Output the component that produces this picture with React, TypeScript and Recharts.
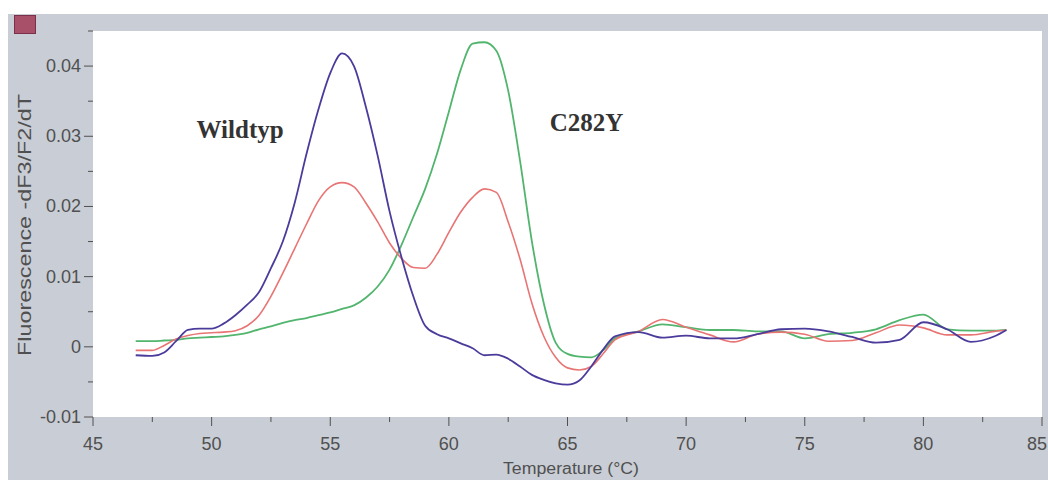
import React from "react";
import {
  LineChart,
  Line,
  XAxis,
  YAxis,
  ReferenceArea,
  ReferenceDot,
} from "recharts";

// melting curve, temperature in °C
const temps = [
  46.8, 47.5, 48, 48.5, 49, 49.5, 50, 50.5, 51, 51.5, 52, 52.5, 53, 53.5, 54,
  54.5, 55, 55.5, 56, 56.5, 57, 57.5, 58, 58.5, 59, 59.5, 60, 60.5, 61, 61.5,
  62, 62.5, 63, 63.5, 64, 64.5, 65, 65.5, 66, 66.5, 67, 68, 69, 70, 71, 72, 73,
  74, 75, 76, 77, 78, 79, 80, 81, 82, 83, 83.5,
];

const wildtyp = [
  -0.0012, -0.0013, -0.0008, 0.0008, 0.0024, 0.0026, 0.0026, 0.0033, 0.0045,
  0.006, 0.0078, 0.0112, 0.015, 0.0205, 0.0275, 0.0338, 0.039, 0.0418, 0.04,
  0.0342, 0.0272, 0.0193, 0.0128, 0.0072, 0.003, 0.0018, 0.0012, 0.0005,
  -0.0002, -0.0012, -0.0011, -0.0017, -0.0028, -0.004, -0.0047, -0.0052,
  -0.0054, -0.0048, -0.0028, -0.0004, 0.0015, 0.0021, 0.0013, 0.0016, 0.0012,
  0.0012, 0.0018, 0.0025, 0.0026, 0.0022, 0.0014, 0.0006, 0.001, 0.0035,
  0.0025, 0.0007, 0.0015, 0.0024,
];

const heterozygot = [
  -0.0005, -0.0005, 0.0002, 0.0011, 0.0016, 0.0019, 0.002, 0.0021, 0.0023,
  0.003, 0.0045, 0.0072, 0.0105, 0.014, 0.0175, 0.0208, 0.0228, 0.0234, 0.0228,
  0.0205, 0.0178, 0.0148, 0.0126, 0.0113, 0.0112, 0.0132, 0.0163, 0.0192,
  0.0213, 0.0225, 0.022, 0.0178, 0.0125, 0.0062, 0.0015, -0.0015, -0.003,
  -0.0033, -0.0028, -0.001, 0.001, 0.0022, 0.0039, 0.0028, 0.0017, 0.0007,
  0.0018, 0.0021, 0.0018, 0.0008, 0.0009, 0.002, 0.0031, 0.0027, 0.0017,
  0.0017, 0.0022, 0.0024,
];

const c282y = [
  0.0008, 0.0008, 0.0009, 0.001, 0.0012, 0.0013, 0.0014, 0.0015, 0.0017, 0.002,
  0.0025, 0.0029, 0.0034, 0.0038, 0.0041, 0.0045, 0.0049, 0.0054, 0.0059,
  0.007, 0.0086, 0.011, 0.0145, 0.0185, 0.0225, 0.0275, 0.0335, 0.0395, 0.0432,
  0.0434, 0.0422, 0.0365, 0.0265, 0.015, 0.0062, 0.0006, -0.001, -0.0014,
  -0.0015, -0.0005, 0.0012, 0.0022, 0.0032, 0.0028, 0.0024, 0.0024, 0.0022,
  0.0022, 0.0012, 0.0018, 0.002, 0.0025, 0.0038, 0.0046, 0.0025, 0.0023,
  0.0023, 0.0024,
];

const xTicks = [
  45, 47.5, 50, 52.5, 55, 57.5, 60, 62.5, 65, 67.5, 70, 72.5, 75, 77.5, 80,
  82.5, 85,
];
const yTicks = [
  -0.01, -0.005, 0, 0.005, 0.01, 0.015, 0.02, 0.025, 0.03, 0.035, 0.04, 0.045,
];

const data = temps.map((t, i) => ({
  t,
  wildtyp: wildtyp[i],
  heterozygot: heterozygot[i],
  c282y: c282y[i],
}));

const GRAY = "#c9cdd5";
const INK = "#505050";
const FONT = "'Liberation Sans', Arial, sans-serif";
const SERIF = "'Liberation Serif', 'Times New Roman', serif";

function XTick({ x, y, payload }: any) {
  const v = payload.value;
  const major = v % 5 === 0;
  // last label sits at the right edge of the frame
  const last = v === 85;
  return (
    <g>
      <line x1={x} x2={x} y1={y} y2={y + (major ? 9 : 5)} stroke={INK} />
      {major && (
        <text
          x={last ? x + 5 : x}
          y={y + 33}
          textAnchor={last ? "end" : "middle"}
          fill={INK}
          fontSize={18}
          fontFamily={FONT}
        >
          {v}
        </text>
      )}
    </g>
  );
}

function YTick({ x, y, payload }: any) {
  const v = payload.value;
  const major = Math.round(v * 1000) % 10 === 0;
  const label = v === 0 ? "0" : v.toFixed(2);
  return (
    <g>
      <line x1={x - (major ? 9 : 5)} x2={x} y1={y} y2={y} stroke={INK} />
      {major && (
        <text x={x - 12} y={y + 6} textAnchor="end" fill={INK} fontSize={18} fontFamily={FONT}>
          {label}
        </text>
      )}
    </g>
  );
}

export default function App() {
  return (
    <div style={{ position: "absolute", left: 0, top: 0, width: 1048, height: 480, background: "#fff" }}>
      <div style={{ position: "absolute", left: 8, top: 14, right: 0, bottom: 0, background: GRAY }} />
      <div
        style={{
          position: "absolute",
          left: 14,
          top: 15,
          width: 20,
          height: 17,
          background: "#a8506a",
          border: "1px solid #7a3048",
        }}
      />
      <div style={{ position: "absolute", left: 0, top: 0 }}>
        <LineChart
          width={1048}
          height={480}
          data={data}
          margin={{ top: 31, right: 6, bottom: 31, left: 0 }}
        >
          <XAxis
            dataKey="t"
            type="number"
            domain={[45, 85]}
            ticks={xTicks}
            interval={0}
            tick={<XTick />}
            tickLine={false}
            tickSize={0}
            tickMargin={0}
            axisLine={false}
            height={32}
            label={{
              content: () => (
                <text
                  x={571}
                  y={474}
                  textAnchor="middle"
                  fill={INK}
                  fontSize={16}
                  fontFamily={FONT}
                  textLength={136}
                  lengthAdjust="spacingAndGlyphs"
                >
                  Temperature (°C)
                </text>
              ),
            }}
          />
          <YAxis
            type="number"
            domain={[-0.01, 0.045]}
            ticks={yTicks}
            interval={0}
            allowDataOverflow
            tick={<YTick />}
            tickLine={false}
            tickSize={0}
            tickMargin={0}
            axisLine={false}
            width={93}
            label={{
              content: () => (
                <text
                  transform="translate(31,225) rotate(-90)"
                  textAnchor="middle"
                  fill={INK}
                  fontSize={19}
                  fontFamily={FONT}
                  textLength={262}
                  lengthAdjust="spacingAndGlyphs"
                >
                  Fluorescence -dF3/F2/dT
                </text>
              ),
            }}
          />
          <ReferenceArea x1={45} x2={85} y1={-0.01} y2={0.045} fill="#ffffff" fillOpacity={1} stroke="none" />
          <Line
            type="monotone"
            dataKey="c282y"
            stroke="#52b56e"
            strokeWidth={1.8}
            dot={false}
            isAnimationActive={false}
          />
          <Line
            type="monotone"
            dataKey="heterozygot"
            stroke="#e87474"
            strokeWidth={1.6}
            dot={false}
            isAnimationActive={false}
          />
          <Line
            type="monotone"
            dataKey="wildtyp"
            stroke="#4b3c9c"
            strokeWidth={1.8}
            dot={false}
            isAnimationActive={false}
          />
          <ReferenceDot
            x={51.2}
            y={0.031}
            r={0}
            label={{
              value: "Wildtyp",
              position: "center",
              fill: "#333",
              fontSize: 25,
              fontWeight: "bold",
              fontFamily: SERIF,
            }}
          />
          <ReferenceDot
            x={65.8}
            y={0.032}
            r={0}
            label={{
              value: "C282Y",
              position: "center",
              fill: "#333",
              fontSize: 25,
              fontWeight: "bold",
              fontFamily: SERIF,
            }}
          />
        </LineChart>
      </div>
    </div>
  );
}
